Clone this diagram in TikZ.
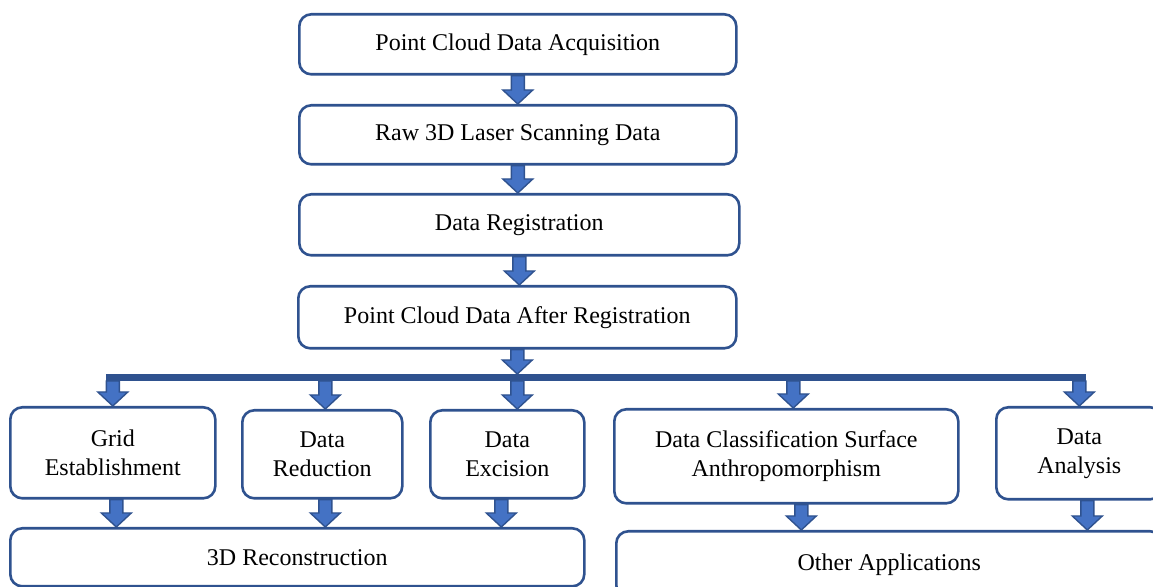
\documentclass[tikz,border=0pt]{standalone}
\usepackage{fontspec}
\setmainfont{Liberation Serif}
\usepackage{tikz}
\usetikzlibrary{positioning, calc}
\definecolor{boxLine}{HTML}{2F528F}
\definecolor{arrFill}{HTML}{4472C4}
% block arrow: x taken from #1, tip at the y of #2
\newcommand{\fatarrow}[2]{%
  \filldraw[fatarr] let \p1=(#1), \p2=(#2) in
    (\x1-3.25pt,\y1) -- (\x1+3.25pt,\y1) -- (\x1+3.25pt,\y2+7pt)
    -- (\x1+7.5pt,\y2+7pt) -- (\x1,\y2) -- (\x1-7.5pt,\y2+7pt)
    -- (\x1-3.25pt,\y2+7pt) -- cycle;}

\begin{document}
\begin{tikzpicture}[
  x=0.5pt, y=-0.5pt,
  every node/.style={font=\fontsize{12}{14.5}\selectfont},
  stage/.style={rectangle, rounded corners=6pt, draw=boxLine, line width=1.3pt,
                fill=white, text=black, align=center, inner sep=2pt, anchor=north west},
  fatarr/.style={fill=arrFill, draw=boxLine, line width=0.7pt, line join=miter},
  busline/.style={draw=boxLine, line width=3.5pt},
]
  \useasboundingbox (0,0) rectangle (1153,587);

  % ═══ Main chain: acquisition down to registered cloud ═══
  \node[stage, minimum width=218.5pt, minimum height=30pt] at (298,13)  (acq)   {Point Cloud Data Acquisition};
  \node[stage, minimum width=218.5pt, minimum height=29.5pt] at (298,104) (raw) {Raw 3D Laser Scanning Data};
  \node[stage, minimum width=220pt, minimum height=30.5pt] at (298,193) (reg)   {Data Registration};
  \node[stage, minimum width=219pt, minimum height=31pt] at (297,285) (after)   {Point Cloud Data After Registration};

  % ═══ Processing row ═══
  \node[stage, minimum width=102.5pt, minimum height=45.5pt] at (9,406)  (grid) {Grid\\Establishment};
  \node[stage, minimum width=80pt, minimum height=44pt] at (241,409)   (red)  {Data\\Reduction};
  \node[stage, minimum width=77pt, minimum height=44pt] at (429,409)   (exc)  {Data\\Excision};
  \node[stage, minimum width=172pt, minimum height=47pt] at (613,408)  (cls)  {Data Classification Surface\\Anthropomorphism};
  \node[stage, minimum width=83pt, minimum height=46pt] at (995,406)   (ana)  {Data\\Analysis};

  % ═══ Results ═══
  \node[stage, minimum width=287pt, minimum height=29pt] at (9,527)    (recon) {3D Reconstruction};
  \node[stage, minimum width=273pt, minimum height=33pt] at (615,530)  (other) {Other Applications};

  % Distribution bus under the registered cloud
  \coordinate (bustop) at (515,374);
  \coordinate (bus)    at (515,377.5);
  \coordinate (busbot) at (515,381);
  \draw[busline] ($(grid.north |- bus)+(-7,0)$) -- ($(ana.north |- bus)+(7,0)$);

  % Arrows down the chain
  \fatarrow{acq.south}{raw.north}
  \fatarrow{raw.south}{reg.north}
  \fatarrow{reg.south}{after.north}
  \fatarrow{after.south}{after.south |- bustop}

  % Arrows off the bus
  \fatarrow{grid.north |- busbot}{grid.north}
  \fatarrow{$(red.north |- busbot)+(3,0)$}{red.north}
  \fatarrow{after.south |- busbot}{exc.north}
  \fatarrow{$(cls.north |- busbot)+(7,0)$}{cls.north}
  \fatarrow{ana.north |- busbot}{ana.north}

  % Arrows into the results
  \fatarrow{$(grid.south)+(3.5,0)$}{recon.north}
  \fatarrow{$(red.south)+(3,0)$}{recon.north}
  \fatarrow{$(exc.south)+(-6,0)$}{recon.north}
  \fatarrow{$(cls.south)+(15,0)$}{other.north}
  \fatarrow{$(ana.south)+(8,0)$}{other.north}
\end{tikzpicture}
\end{document}
